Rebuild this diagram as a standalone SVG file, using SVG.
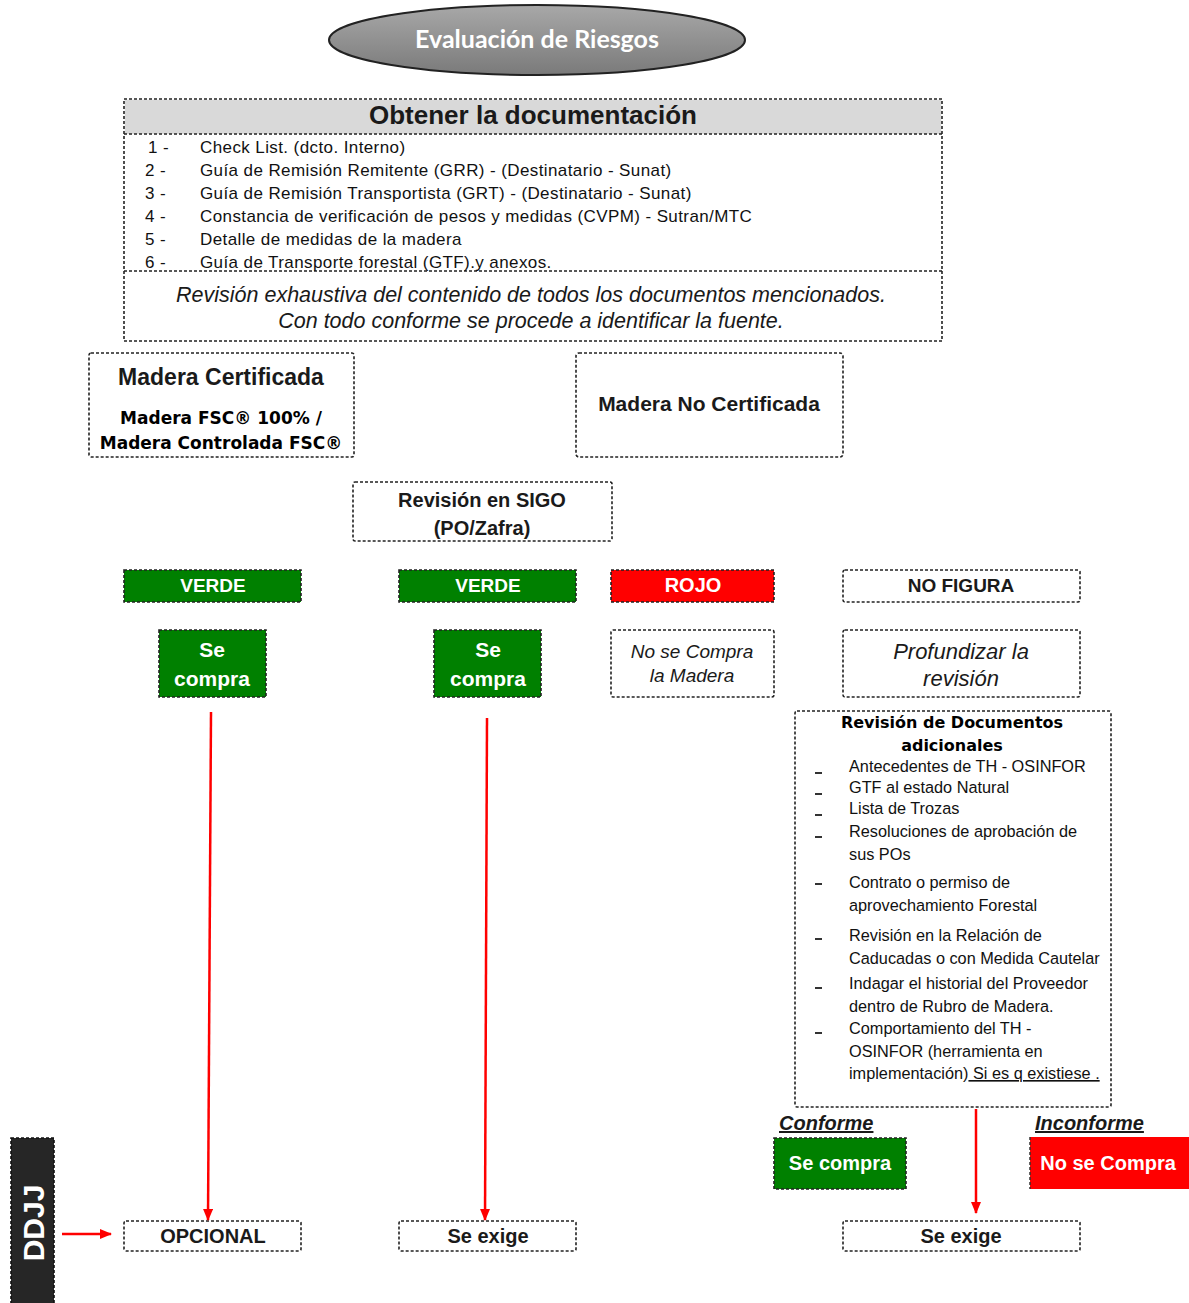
<svg xmlns="http://www.w3.org/2000/svg" width="1189" height="1303" viewBox="0 0 1189 1303">
<defs>
<linearGradient id="gEll" x1="0" y1="0" x2="0" y2="1">
<stop offset="0" stop-color="#a8a8a8"/>
<stop offset="1" stop-color="#7a7a7a"/>
</linearGradient>
<marker id="arr" viewBox="0 0 12 10" refX="11" refY="5" markerWidth="12" markerHeight="10" markerUnits="userSpaceOnUse" orient="auto">
<path d="M0,0 L12,5 L0,10 z" fill="#ff0000"/>
</marker>
<style>
.box{fill:#ffffff;stroke:#222;stroke-width:1.6;stroke-dasharray:3 2}
.gbox{fill:#008000;stroke:#222;stroke-width:1.6;stroke-dasharray:3 2}
.rbox{fill:#ff0000;stroke:#222;stroke-width:1.6;stroke-dasharray:3 2}
.t{font-family:"Liberation Sans",Arial,sans-serif;fill:#1a1a1a}
.dj{font-family:"DejaVu Sans",Verdana,sans-serif;font-weight:bold;fill:#000}
.b{font-weight:bold}
.i{font-style:italic}
.w{fill:#ffffff}
.c{text-anchor:middle}
.li{font-family:"Liberation Sans",Arial,sans-serif;font-size:17px;letter-spacing:0.4px;fill:#111}
.ri{font-family:"Liberation Sans",Arial,sans-serif;font-size:16.3px;fill:#111}
.con{stroke:#ff0000;stroke-width:2.5;fill:none}
</style>
</defs>

<g id="n-evaluacion">
<ellipse cx="537" cy="40" rx="208" ry="35" fill="url(#gEll)" stroke="#222" stroke-width="2"/>
<text x="537" y="48" class="c b" font-family="Lato,'Open Sans',sans-serif" font-size="25" fill="#ffffff">Evaluación de Riesgos</text>
</g>

<g id="n-documentacion">
<rect x="124.8" y="99.8" width="816.4" height="34.2" fill="#d9d9d9"/>
<rect x="124" y="99" width="818" height="242" fill="none" stroke="#222" stroke-width="1.6" stroke-dasharray="3 2"/>
<line x1="124" y1="134" x2="942" y2="134" stroke="#222" stroke-width="1.6" stroke-dasharray="3 2"/>
<line x1="124" y1="271" x2="942" y2="271" stroke="#222" stroke-width="1.6" stroke-dasharray="3 2"/>
<text x="533" y="124" class="t b c" font-size="26">Obtener la documentación</text>
<text x="148" y="153" class="li">1 -</text><text x="200" y="153" class="li">Check List. (dcto. Interno)</text>
<text x="145" y="176" class="li">2 -</text><text x="200" y="176" class="li">Guía de Remisión Remitente (GRR) -  (Destinatario - Sunat)</text>
<text x="145" y="199" class="li">3 -</text><text x="200" y="199" class="li">Guía de Remisión Transportista (GRT) - (Destinatario - Sunat)</text>
<text x="145" y="222" class="li">4 -</text><text x="200" y="222" class="li">Constancia de verificación de pesos y medidas (CVPM)  - Sutran/MTC</text>
<text x="145" y="245" class="li">5 -</text><text x="200" y="245" class="li">Detalle de medidas de la madera</text>
<text x="145" y="268" class="li">6 -</text><text x="200" y="268" class="li">Guía de Transporte forestal (GTF).y anexos.</text>
<text x="531" y="302" class="t i c" font-size="21.5" fill="#333">Revisión exhaustiva del contenido de todos los documentos mencionados.</text>
<text x="531" y="328" class="t i c" font-size="21.5" fill="#333">Con todo conforme se procede a identificar la fuente.</text>
</g>

<g id="n-certificada">
<rect x="89" y="353" width="265" height="104" rx="2" class="box"/>
<text x="221" y="385" class="t b c" font-size="23">Madera Certificada</text>
<text x="221" y="424" class="dj c" font-size="17">Madera FSC® 100% /</text>
<text x="221" y="449" class="dj c" font-size="17">Madera Controlada FSC®</text>
</g>

<g id="n-nocertificada">
<rect x="576" y="353" width="267" height="104" rx="3" class="box"/>
<text x="709" y="411" class="t b c" font-size="21">Madera No Certificada</text>
</g>

<g id="n-sigo">
<rect x="353" y="482" width="259" height="59" rx="2" class="box"/>
<text x="482" y="507" class="t b c" font-size="20">Revisión en SIGO</text>
<text x="482" y="535" class="t b c" font-size="20">(PO/Zafra)</text>
</g>

<g id="n-verde1">
<rect x="124" y="570" width="177" height="32" class="gbox"/>
<text x="213" y="592" class="t b c w" font-size="19">VERDE</text>
</g>
<g id="n-verde2">
<rect x="399" y="570" width="177" height="32" class="gbox"/>
<text x="488" y="592" class="t b c w" font-size="19">VERDE</text>
</g>
<g id="n-rojo">
<rect x="611" y="570" width="163" height="32" class="rbox"/>
<text x="693" y="592" class="t b c w" font-size="20">ROJO</text>
</g>
<g id="n-nofigura">
<rect x="843" y="570" width="237" height="32" rx="2" class="box"/>
<text x="961" y="592" class="t b c" font-size="19">NO FIGURA</text>
</g>

<g id="n-secompra1">
<rect x="159" y="630" width="107" height="67" class="gbox"/>
<text x="212" y="657" class="t b c w" font-size="21">Se</text>
<text x="212" y="686" class="t b c w" font-size="21">compra</text>
</g>
<g id="n-secompra2">
<rect x="434" y="630" width="107" height="67" class="gbox"/>
<text x="488" y="657" class="t b c w" font-size="21">Se</text>
<text x="488" y="686" class="t b c w" font-size="21">compra</text>
</g>
<g id="n-nosecompra">
<rect x="611" y="630" width="163" height="67" rx="2" class="box"/>
<text x="692" y="658" class="t i c" font-size="19" fill="#222">No se Compra</text>
<text x="692" y="682" class="t i c" font-size="19" fill="#222">la Madera</text>
</g>
<g id="n-profundizar">
<rect x="843" y="630" width="237" height="67" rx="2" class="box"/>
<text x="961" y="659" class="t i c" font-size="22" fill="#222">Profundizar la</text>
<text x="961" y="686" class="t i c" font-size="22" fill="#222">revisión</text>
</g>

<g id="n-revdocs">
<rect x="795" y="711" width="316" height="396" rx="2" class="box"/>
<text x="952" y="728" class="dj c" font-size="16">Revisión de Documentos</text>
<text x="952" y="751" class="dj c" font-size="16">adicionales</text>
<g fill="#333">
<rect x="815" y="772" width="7" height="2"/>
<rect x="815" y="793" width="7" height="2"/>
<rect x="815" y="814" width="7" height="2"/>
<rect x="815" y="836" width="7" height="2"/>
<rect x="815" y="883" width="7" height="2"/>
<rect x="815" y="938" width="7" height="2"/>
<rect x="815" y="987" width="7" height="2"/>
<rect x="815" y="1032" width="7" height="2"/>
</g>
<text x="849" y="772" class="ri">Antecedentes de TH - OSINFOR</text>
<text x="849" y="793" class="ri">GTF al estado Natural</text>
<text x="849" y="814" class="ri">Lista de Trozas</text>
<text x="849" y="837" class="ri">Resoluciones de aprobación de</text>
<text x="849" y="860" class="ri">sus POs</text>
<text x="849" y="888" class="ri">Contrato o permiso de</text>
<text x="849" y="911" class="ri">aprovechamiento Forestal</text>
<text x="849" y="941" class="ri">Revisión en la Relación de</text>
<text x="849" y="964" class="ri">Caducadas o con Medida Cautelar</text>
<text x="849" y="989" class="ri">Indagar el historial del Proveedor</text>
<text x="849" y="1012" class="ri">dentro de Rubro de Madera.</text>
<text x="849" y="1034" class="ri">Comportamiento del TH -</text>
<text x="849" y="1057" class="ri">OSINFOR (herramienta en</text>
<text x="849" y="1079" class="ri">implementación)<tspan text-decoration="underline"> Si es q existiese .</tspan></text>
</g>

<g id="n-conforme">
<text x="779" y="1130" class="t b i" font-size="20" fill="#333" text-decoration="underline">Conforme</text>
<rect x="774" y="1138" width="132" height="51" class="gbox"/>
<text x="840" y="1170" class="t b c w" font-size="20">Se compra</text>
</g>
<g id="n-inconforme">
<text x="1035" y="1130" class="t b i" font-size="20" fill="#333" text-decoration="underline">Inconforme</text>
<rect x="1030" y="1137" width="159" height="52" fill="#ff0000"/>
<line x1="1030" y1="1137" x2="1030" y2="1189" stroke="#333" stroke-width="1.5" stroke-dasharray="3 2"/>
<text x="1108" y="1170" class="t b c w" font-size="20">No se Compra</text>
</g>

<g id="n-ddjj">
<rect x="11" y="1138" width="43" height="170" fill="#262626" stroke="#111" stroke-width="1.6" stroke-dasharray="3 2"/>
<text x="0" y="0" transform="translate(44 1223) rotate(-90)" class="t b c w" font-size="30">DDJJ</text>
</g>

<g id="n-opcional">
<rect x="124" y="1221" width="177" height="30" rx="2" class="box"/>
<text x="213" y="1243" class="t b c" font-size="20">OPCIONAL</text>
</g>
<g id="n-seexige1">
<rect x="399" y="1221" width="177" height="30" rx="2" class="box"/>
<text x="488" y="1243" class="t b c" font-size="20">Se exige</text>
</g>
<g id="n-seexige2">
<rect x="843" y="1221" width="237" height="30" rx="2" class="box"/>
<text x="961" y="1243" class="t b c" font-size="20">Se exige</text>
</g>

<g id="connectors">
<line x1="211" y1="712" x2="208" y2="1220" class="con" marker-end="url(#arr)"/>
<line x1="487" y1="718" x2="485" y2="1220" class="con" marker-end="url(#arr)"/>
<line x1="976" y1="1109" x2="976" y2="1213" class="con" marker-end="url(#arr)"/>
<line x1="62" y1="1234" x2="111" y2="1234" class="con" marker-end="url(#arr)"/>
</g>
</svg>
